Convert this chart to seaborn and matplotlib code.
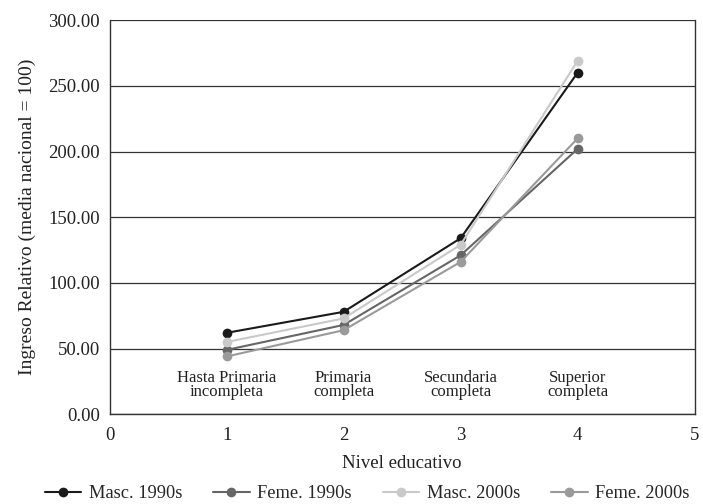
import pandas as pd
import matplotlib.pyplot as plt
import seaborn as sns

# data
niveles = [1, 2, 3, 4]
nivel_nombres = ['Hasta Primaria\nincompleta', 'Primaria\ncompleta',
                 'Secundaria\ncompleta', 'Superior\ncompleta']
series = ['Masc. 1990s', 'Feme. 1990s', 'Masc. 2000s', 'Feme. 2000s']
masc_1990 = [62.0, 78.0, 134.0, 260.0]
feme_1990 = [49.0, 68.0, 121.0, 202.0]
masc_2000 = [55.0, 73.0, 129.0, 269.0]
feme_2000 = [44.0, 64.0, 116.0, 210.0]
colores = ['#1a1a1a', '#666666', '#c9c9c9', '#9a9a9a']

df = pd.DataFrame({
    'Nivel': niveles * 4,
    'Ingreso': masc_1990 + feme_1990 + masc_2000 + feme_2000,
    'Serie': [s for s in series for _ in niveles],
})

sns.set_style('white')
plt.rcParams['font.family'] = ['Liberation Serif', 'DejaVu Serif']

fig = plt.figure(figsize=(7.03, 5.04), dpi=100)
ax = fig.add_axes([0.156, 0.178, 0.832, 0.782])

sns.lineplot(data=df, x='Nivel', y='Ingreso', hue='Serie', hue_order=series,
             palette=colores, marker='o', markersize=7, markeredgewidth=0,
             linewidth=1.5, ax=ax, legend=True)

ax.set_xlim(0, 5)
ax.set_ylim(0, 300)
ax.set_xticks(range(0, 6))
ax.set_yticks(range(0, 301, 50))
ax.set_yticklabels([f'{v:.2f}' for v in range(0, 301, 50)])
ax.grid(axis='y', color='#333333', linewidth=0.9)
ax.grid(axis='x', visible=False)
ax.set_axisbelow(True)
for side in ['left', 'bottom', 'right']:
    ax.spines[side].set_color('#333333')
    ax.spines[side].set_linewidth(1.0)
ax.spines['top'].set_visible(False)
ax.tick_params(axis='both', direction='out', length=4, width=1, color='#333333',
               labelsize=13.5, labelcolor='#222222')
ax.tick_params(axis='x', pad=5)
ax.tick_params(axis='y', pad=3)

for x, nombre in zip(niveles, nivel_nombres):
    ax.text(x, 22, nombre, ha='center', va='center', fontsize=12,
            color='#222222', linespacing=0.85)

ax.set_xlabel('Nivel educativo', fontsize=13.5, color='#222222', labelpad=8)
ax.set_ylabel('Ingreso Relativo (media nacional = 100)', fontsize=14,
              color='#222222', labelpad=9)

ax.legend(loc='upper center', bbox_to_anchor=(0.44, -0.152), ncol=4,
          frameon=False, fontsize=13.2, handlelength=2.0, columnspacing=1.7,
          handletextpad=0.4, borderaxespad=0.2)

fig.savefig('out.png', dpi=100)
